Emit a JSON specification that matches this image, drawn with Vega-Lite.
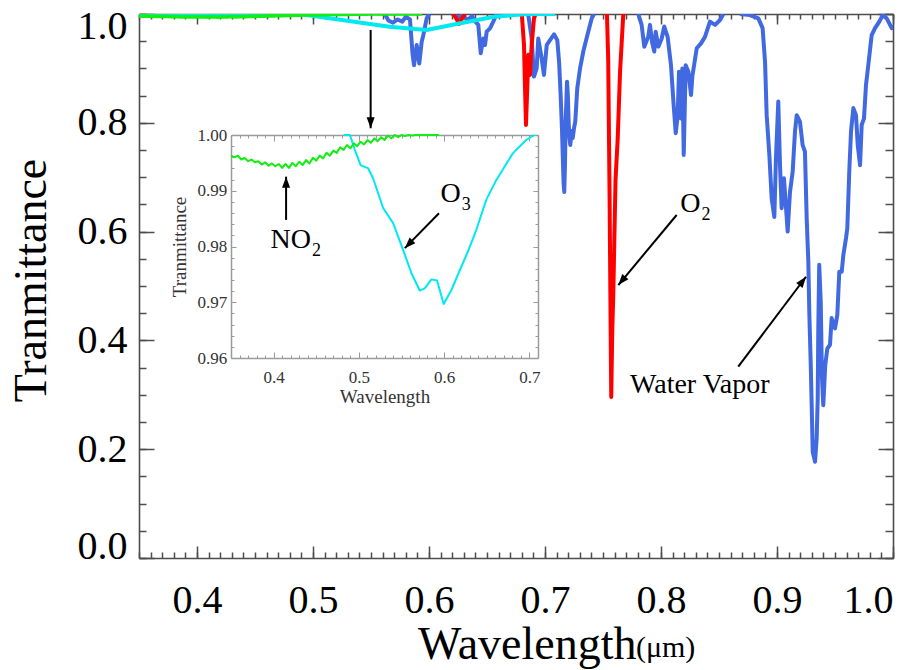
{
  "$schema": "https://vega.github.io/schema/vega-lite/v6.json",
  "width": 754,
  "height": 544,
  "autosize": {"type": "none"},
  "padding": {"left": 139, "top": 14, "right": 31, "bottom": 112},
  "background": "white",
  "config": {
    "view": {"stroke": null},
    "font": "Liberation Serif",
    "axis": {
      "grid": false,
      "domainColor": "#4d4d4d",
      "tickColor": "#4d4d4d",
      "domainWidth": 1.6,
      "tickWidth": 1.5,
      "labelFont": "Liberation Serif",
      "titleFont": "Liberation Serif",
      "labelColor": "#000000",
      "titleColor": "#000000",
      "titleFontWeight": "normal",
      "labelOverlap": false
    }
  },
  "datasets": {
    "blue": [
      {"seg": 1, "wl": 0.562, "t": 1.0}, {"seg": 1, "wl": 0.565, "t": 0.988}, {"seg": 1, "wl": 0.569, "t": 0.984}, {"seg": 1, "wl": 0.573, "t": 0.99}, {"seg": 1, "wl": 0.577, "t": 0.986}, {"seg": 1, "wl": 0.58, "t": 0.995}, {"seg": 1, "wl": 0.5836, "t": 0.99}, {"seg": 1, "wl": 0.5859, "t": 0.9246}, {"seg": 1, "wl": 0.5871, "t": 0.906}, {"seg": 1, "wl": 0.5894, "t": 0.943}, {"seg": 1, "wl": 0.5916, "t": 0.909}, {"seg": 1, "wl": 0.5937, "t": 0.949}, {"seg": 1, "wl": 0.5951, "t": 0.961}, {"seg": 1, "wl": 0.598, "t": 0.992}, {"seg": 1, "wl": 0.6003, "t": 1.0},
      {"seg": 2, "wl": 0.62, "t": 1.0}, {"seg": 2, "wl": 0.625, "t": 0.993}, {"seg": 2, "wl": 0.629, "t": 0.998}, {"seg": 2, "wl": 0.633, "t": 0.989}, {"seg": 2, "wl": 0.637, "t": 0.996}, {"seg": 2, "wl": 0.64, "t": 0.986}, {"seg": 2, "wl": 0.6425, "t": 0.98}, {"seg": 2, "wl": 0.6446, "t": 0.928}, {"seg": 2, "wl": 0.6468, "t": 0.955}, {"seg": 2, "wl": 0.6483, "t": 0.943}, {"seg": 2, "wl": 0.6497, "t": 0.9675}, {"seg": 2, "wl": 0.6526, "t": 0.9737}, {"seg": 2, "wl": 0.6554, "t": 0.986}, {"seg": 2, "wl": 0.6584, "t": 1.0},
      {"seg": 3, "wl": 0.684, "t": 1.0}, {"seg": 3, "wl": 0.6856, "t": 0.998}, {"seg": 3, "wl": 0.6885, "t": 0.955}, {"seg": 3, "wl": 0.6905, "t": 0.885}, {"seg": 3, "wl": 0.6928, "t": 0.9}, {"seg": 3, "wl": 0.6942, "t": 0.955}, {"seg": 3, "wl": 0.6971, "t": 0.9186}, {"seg": 3, "wl": 0.6991, "t": 0.888}, {"seg": 3, "wl": 0.7015, "t": 0.943}, {"seg": 3, "wl": 0.7043, "t": 0.952}, {"seg": 3, "wl": 0.7078, "t": 0.9626}, {"seg": 3, "wl": 0.7106, "t": 0.952}, {"seg": 3, "wl": 0.7122, "t": 0.91}, {"seg": 3, "wl": 0.7135, "t": 0.85}, {"seg": 3, "wl": 0.7146, "t": 0.79}, {"seg": 3, "wl": 0.7153, "t": 0.741}, {"seg": 3, "wl": 0.716, "t": 0.69}, {"seg": 3, "wl": 0.7166, "t": 0.673}, {"seg": 3, "wl": 0.7172, "t": 0.72}, {"seg": 3, "wl": 0.7178, "t": 0.8}, {"seg": 3, "wl": 0.719, "t": 0.8756}, {"seg": 3, "wl": 0.7197, "t": 0.85}, {"seg": 3, "wl": 0.7204, "t": 0.8}, {"seg": 3, "wl": 0.7212, "t": 0.77}, {"seg": 3, "wl": 0.7218, "t": 0.759}, {"seg": 3, "wl": 0.7229, "t": 0.785}, {"seg": 3, "wl": 0.7239, "t": 0.772}, {"seg": 3, "wl": 0.725, "t": 0.79}, {"seg": 3, "wl": 0.7261, "t": 0.802}, {"seg": 3, "wl": 0.7278, "t": 0.863}, {"seg": 3, "wl": 0.7302, "t": 0.9}, {"seg": 3, "wl": 0.733, "t": 0.931}, {"seg": 3, "wl": 0.7365, "t": 0.961}, {"seg": 3, "wl": 0.7403, "t": 0.992}, {"seg": 3, "wl": 0.7422, "t": 1.0},
      {"seg": 4, "wl": 0.7804, "t": 1.0}, {"seg": 4, "wl": 0.7833, "t": 0.98}, {"seg": 4, "wl": 0.7856, "t": 0.94}, {"seg": 4, "wl": 0.789, "t": 0.958}, {"seg": 4, "wl": 0.7905, "t": 0.98}, {"seg": 4, "wl": 0.7925, "t": 0.946}, {"seg": 4, "wl": 0.7942, "t": 0.931}, {"seg": 4, "wl": 0.7954, "t": 0.9675}, {"seg": 4, "wl": 0.7977, "t": 0.94}, {"seg": 4, "wl": 0.8006, "t": 0.955}, {"seg": 4, "wl": 0.8028, "t": 0.977}, {"seg": 4, "wl": 0.8057, "t": 0.958}, {"seg": 4, "wl": 0.8086, "t": 0.906}, {"seg": 4, "wl": 0.8109, "t": 0.833}, {"seg": 4, "wl": 0.8127, "t": 0.781}, {"seg": 4, "wl": 0.8144, "t": 0.814}, {"seg": 4, "wl": 0.8155, "t": 0.894}, {"seg": 4, "wl": 0.8172, "t": 0.808}, {"seg": 4, "wl": 0.8184, "t": 0.9}, {"seg": 4, "wl": 0.8196, "t": 0.741}, {"seg": 4, "wl": 0.8213, "t": 0.906}, {"seg": 4, "wl": 0.8236, "t": 0.894}, {"seg": 4, "wl": 0.8259, "t": 0.851}, {"seg": 4, "wl": 0.827, "t": 0.885}, {"seg": 4, "wl": 0.8308, "t": 0.937}, {"seg": 4, "wl": 0.8345, "t": 0.946}, {"seg": 4, "wl": 0.8379, "t": 0.958}, {"seg": 4, "wl": 0.8422, "t": 0.986}, {"seg": 4, "wl": 0.8466, "t": 0.98}, {"seg": 4, "wl": 0.8509, "t": 0.989}, {"seg": 4, "wl": 0.8537, "t": 1.0},
      {"seg": 5, "wl": 0.868, "t": 1.0}, {"seg": 5, "wl": 0.8767, "t": 0.998}, {"seg": 5, "wl": 0.8839, "t": 0.992}, {"seg": 5, "wl": 0.8876, "t": 0.974}, {"seg": 5, "wl": 0.8897, "t": 0.912}, {"seg": 5, "wl": 0.8911, "t": 0.814}, {"seg": 5, "wl": 0.8934, "t": 0.741}, {"seg": 5, "wl": 0.8954, "t": 0.661}, {"seg": 5, "wl": 0.8977, "t": 0.627}, {"seg": 5, "wl": 0.8991, "t": 0.735}, {"seg": 5, "wl": 0.9011, "t": 0.839}, {"seg": 5, "wl": 0.9026, "t": 0.722}, {"seg": 5, "wl": 0.904, "t": 0.643}, {"seg": 5, "wl": 0.906, "t": 0.698}, {"seg": 5, "wl": 0.9078, "t": 0.643}, {"seg": 5, "wl": 0.9092, "t": 0.6}, {"seg": 5, "wl": 0.9112, "t": 0.673}, {"seg": 5, "wl": 0.9135, "t": 0.71}, {"seg": 5, "wl": 0.9155, "t": 0.784}, {"seg": 5, "wl": 0.917, "t": 0.814}, {"seg": 5, "wl": 0.9198, "t": 0.802}, {"seg": 5, "wl": 0.9221, "t": 0.759}, {"seg": 5, "wl": 0.9241, "t": 0.747}, {"seg": 5, "wl": 0.9256, "t": 0.624}, {"seg": 5, "wl": 0.927, "t": 0.545}, {"seg": 5, "wl": 0.9279, "t": 0.447}, {"seg": 5, "wl": 0.9291, "t": 0.355}, {"seg": 5, "wl": 0.9299, "t": 0.281}, {"seg": 5, "wl": 0.9308, "t": 0.195}, {"seg": 5, "wl": 0.9328, "t": 0.177}, {"seg": 5, "wl": 0.9342, "t": 0.22}, {"seg": 5, "wl": 0.9351, "t": 0.294}, {"seg": 5, "wl": 0.9356, "t": 0.422}, {"seg": 5, "wl": 0.9364, "t": 0.539}, {"seg": 5, "wl": 0.9377, "t": 0.471}, {"seg": 5, "wl": 0.9388, "t": 0.33}, {"seg": 5, "wl": 0.9399, "t": 0.281}, {"seg": 5, "wl": 0.9416, "t": 0.355}, {"seg": 5, "wl": 0.9434, "t": 0.385}, {"seg": 5, "wl": 0.9457, "t": 0.392}, {"seg": 5, "wl": 0.9471, "t": 0.441}, {"seg": 5, "wl": 0.95, "t": 0.422}, {"seg": 5, "wl": 0.952, "t": 0.447}, {"seg": 5, "wl": 0.9537, "t": 0.526}, {"seg": 5, "wl": 0.9558, "t": 0.526}, {"seg": 5, "wl": 0.9572, "t": 0.557}, {"seg": 5, "wl": 0.9595, "t": 0.588}, {"seg": 5, "wl": 0.9606, "t": 0.606}, {"seg": 5, "wl": 0.9623, "t": 0.71}, {"seg": 5, "wl": 0.9638, "t": 0.784}, {"seg": 5, "wl": 0.9658, "t": 0.827}, {"seg": 5, "wl": 0.9681, "t": 0.814}, {"seg": 5, "wl": 0.9696, "t": 0.759}, {"seg": 5, "wl": 0.9716, "t": 0.722}, {"seg": 5, "wl": 0.973, "t": 0.796}, {"seg": 5, "wl": 0.975, "t": 0.808}, {"seg": 5, "wl": 0.9767, "t": 0.869}, {"seg": 5, "wl": 0.9787, "t": 0.906}, {"seg": 5, "wl": 0.9816, "t": 0.961}, {"seg": 5, "wl": 0.9845, "t": 0.974}, {"seg": 5, "wl": 0.9882, "t": 0.986}, {"seg": 5, "wl": 0.9911, "t": 0.998}, {"seg": 5, "wl": 0.9946, "t": 0.992}, {"seg": 5, "wl": 0.9989, "t": 0.974}, {"seg": 5, "wl": 1.0, "t": 0.98}
    ],
    "oxygen": [
      {"seg": 1, "wl": 0.621, "t": 1.0}, {"seg": 1, "wl": 0.624, "t": 0.99}, {"seg": 1, "wl": 0.626, "t": 0.982}, {"seg": 1, "wl": 0.628, "t": 0.99}, {"seg": 1, "wl": 0.631, "t": 1.0},
      {"seg": 2, "wl": 0.68, "t": 1.0}, {"seg": 2, "wl": 0.6819, "t": 0.943}, {"seg": 2, "wl": 0.6828, "t": 0.863}, {"seg": 2, "wl": 0.6836, "t": 0.796}, {"seg": 2, "wl": 0.6847, "t": 0.863}, {"seg": 2, "wl": 0.6856, "t": 0.925}, {"seg": 2, "wl": 0.6871, "t": 0.888}, {"seg": 2, "wl": 0.6885, "t": 0.943}, {"seg": 2, "wl": 0.6905, "t": 0.992}, {"seg": 2, "wl": 0.692, "t": 1.0},
      {"seg": 3, "wl": 0.7534, "t": 1.0}, {"seg": 3, "wl": 0.7545, "t": 0.9154}, {"seg": 3, "wl": 0.7557, "t": 0.658}, {"seg": 3, "wl": 0.7566, "t": 0.419}, {"seg": 3, "wl": 0.7571, "t": 0.296}, {"seg": 3, "wl": 0.758, "t": 0.419}, {"seg": 3, "wl": 0.7589, "t": 0.487}, {"seg": 3, "wl": 0.7595, "t": 0.555}, {"seg": 3, "wl": 0.7608, "t": 0.695}, {"seg": 3, "wl": 0.7627, "t": 0.772}, {"seg": 3, "wl": 0.7647, "t": 0.894}, {"seg": 3, "wl": 0.7675, "t": 1.0}
    ],
    "ozone_coarse": [
      {"wl": 0.35, "t": 1.0}, {"wl": 0.49, "t": 0.9995}, {"wl": 0.566, "t": 0.9765}, {"wl": 0.598, "t": 0.9706}, {"wl": 0.627, "t": 0.983}, {"wl": 0.656, "t": 0.995}, {"wl": 0.685, "t": 1.0}, {"wl": 0.709, "t": 1.0}
    ],
    "ozone": [
      {"wl": 0.482, "t": 1.0005}, {"wl": 0.4895, "t": 1.0}, {"wl": 0.4953, "t": 0.9973}, {"wl": 0.502, "t": 0.9946}, {"wl": 0.511, "t": 0.994}, {"wl": 0.5167, "t": 0.9922}, {"wl": 0.5284, "t": 0.9869}, {"wl": 0.5401, "t": 0.9842}, {"wl": 0.5518, "t": 0.9794}, {"wl": 0.5616, "t": 0.9752}, {"wl": 0.5713, "t": 0.9721}, {"wl": 0.5772, "t": 0.9725}, {"wl": 0.585, "t": 0.9741}, {"wl": 0.5916, "t": 0.9739}, {"wl": 0.5994, "t": 0.9697}, {"wl": 0.6084, "t": 0.9722}, {"wl": 0.6278, "t": 0.9791}, {"wl": 0.6377, "t": 0.983}, {"wl": 0.6494, "t": 0.9884}, {"wl": 0.661, "t": 0.9919}, {"wl": 0.6805, "t": 0.9967}, {"wl": 0.6961, "t": 0.9991}, {"wl": 0.7058, "t": 1.0}
    ],
    "no2": [
      {"wl": 0.35, "t": 0.9963}, {"wl": 0.354, "t": 0.996}, {"wl": 0.358, "t": 0.9963}, {"wl": 0.362, "t": 0.9956}, {"wl": 0.366, "t": 0.9959}, {"wl": 0.37, "t": 0.9953}, {"wl": 0.374, "t": 0.9956}, {"wl": 0.378, "t": 0.9951}, {"wl": 0.382, "t": 0.9953}, {"wl": 0.386, "t": 0.9947}, {"wl": 0.39, "t": 0.9951}, {"wl": 0.394, "t": 0.9945}, {"wl": 0.398, "t": 0.9949}, {"wl": 0.402, "t": 0.9944}, {"wl": 0.406, "t": 0.9948}, {"wl": 0.41, "t": 0.9941}, {"wl": 0.414, "t": 0.9948}, {"wl": 0.418, "t": 0.9941}, {"wl": 0.422, "t": 0.995}, {"wl": 0.426, "t": 0.9944}, {"wl": 0.43, "t": 0.9952}, {"wl": 0.434, "t": 0.9946}, {"wl": 0.438, "t": 0.9955}, {"wl": 0.442, "t": 0.9949}, {"wl": 0.446, "t": 0.9959}, {"wl": 0.45, "t": 0.9954}, {"wl": 0.454, "t": 0.9963}, {"wl": 0.458, "t": 0.9958}, {"wl": 0.462, "t": 0.9968}, {"wl": 0.466, "t": 0.9963}, {"wl": 0.47, "t": 0.9972}, {"wl": 0.474, "t": 0.9968}, {"wl": 0.478, "t": 0.9978}, {"wl": 0.482, "t": 0.9973}, {"wl": 0.486, "t": 0.9982}, {"wl": 0.49, "t": 0.9976}, {"wl": 0.494, "t": 0.9985}, {"wl": 0.498, "t": 0.998}, {"wl": 0.502, "t": 0.9988}, {"wl": 0.506, "t": 0.9983}, {"wl": 0.51, "t": 0.9991}, {"wl": 0.514, "t": 0.9986}, {"wl": 0.518, "t": 0.9994}, {"wl": 0.522, "t": 0.9989}, {"wl": 0.526, "t": 0.9996}, {"wl": 0.53, "t": 0.9991}, {"wl": 0.534, "t": 0.9999}, {"wl": 0.538, "t": 0.9994}, {"wl": 0.542, "t": 1.0001}, {"wl": 0.546, "t": 0.9996}, {"wl": 0.55, "t": 1.0003}, {"wl": 0.554, "t": 0.9998}, {"wl": 0.558, "t": 1.0004}, {"wl": 0.562, "t": 0.9999}, {"wl": 0.566, "t": 1.0005}, {"wl": 0.57, "t": 1.0}, {"wl": 0.574, "t": 1.0005}, {"wl": 0.578, "t": 1.0001}, {"wl": 0.582, "t": 1.0006}, {"wl": 0.586, "t": 1.0002}, {"wl": 0.59, "t": 1.0005}, {"wl": 0.594, "t": 1.0002}
    ],
    "arrows": [
      {"panel": "main", "name": "down", "x0": 0.5497, "y0": 0.9706, "x1": 0.5497, "y1": 0.79},
      {"panel": "main", "name": "o2", "x0": 0.8135, "y0": 0.6305, "x1": 0.7632, "y1": 0.5018},
      {"panel": "main", "name": "vapor", "x0": 0.8666, "y0": 0.3517, "x1": 0.925, "y1": 0.517},
      {"panel": "inset", "name": "no2", "x0": 0.4146, "y0": 0.98477, "x1": 0.4146, "y1": 0.99253},
      {"panel": "inset", "name": "o3", "x0": 0.5939, "y0": 0.98597, "x1": 0.5538, "y1": 0.9797}
    ],
    "species": [
      {"panel": "main", "name": "O", "sub": "2", "x": 0.8341, "y": 0.6366},
      {"panel": "inset", "name": "O", "sub": "3", "x": 0.6193, "y": 0.98805},
      {"panel": "inset", "name": "NO", "sub": "2", "x": 0.4439, "y": 0.9797}
    ],
    "notes": [
      {"kind": "label", "text": "Water Vapor", "x": 0.7733, "y": 0.3042},
      {"kind": "unit", "text": "(μm)", "x": 0.7784, "y": -0.182}
    ]
  },
  "layer": [
    {
      "layer": [
        {
          "data": {"name": "blue"},
          "mark": {"type": "line", "color": "#4169e1", "strokeWidth": 4, "clip": true, "strokeJoin": "round"},
          "encoding": {
            "x": {"field": "wl", "type": "quantitative", "scale": {"domain": [0.35, 1.0], "nice": false, "zero": false},
              "axis": {"orient": "top", "values": [0.35,0.36,0.37,0.38,0.39,0.4,0.41,0.42,0.43,0.44,0.45,0.46,0.47,0.48,0.49,0.5,0.51,0.52,0.53,0.54,0.55,0.56,0.57,0.58,0.59,0.6,0.61,0.62,0.63,0.64,0.65,0.66,0.67,0.68,0.69,0.7,0.71,0.72,0.73,0.74,0.75,0.76,0.77,0.78,0.79,0.8,0.81,0.82,0.83,0.84,0.85,0.86,0.87,0.88,0.89,0.9,0.91,0.92,0.93,0.94,0.95,0.96,0.97,0.98,0.99,1.0], "tickSize": -5, "labels": false, "domain": false, "title": null}},
            "y": {"field": "t", "type": "quantitative", "scale": {"domain": [0, 1.0], "nice": false, "zero": false},
              "axis": {"orient": "right", "values": [0,0.05,0.1,0.15,0.2,0.25,0.3,0.35,0.4,0.45,0.5,0.55,0.6,0.65,0.7,0.75,0.8,0.85,0.9,0.95,1.0], "tickSize": -8, "labels": false, "domain": false, "title": null}},
            "detail": {"field": "seg"}
          }
        },
        {
          "data": {"name": "oxygen"},
          "mark": {"type": "line", "color": "#ff0000", "strokeWidth": 4, "clip": true, "strokeJoin": "round"},
          "encoding": {
            "x": {"field": "wl", "type": "quantitative", "scale": {"domain": [0.35, 1.0], "nice": false, "zero": false},
              "axis": {"orient": "top", "values": [0.4,0.5,0.6,0.7,0.8,0.9,1.0], "tickSize": -10, "labels": false, "domain": true, "title": null}},
            "y": {"field": "t", "type": "quantitative", "scale": {"domain": [0, 1.0], "nice": false, "zero": false},
              "axis": {"orient": "right", "values": [0,0.2,0.4,0.6,0.8,1.0], "tickSize": -15, "labels": false, "domain": true, "title": null}},
            "detail": {"field": "seg"}
          }
        },
        {
          "data": {"name": "ozone_coarse"},
          "mark": {"type": "line", "color": "#00e8f0", "strokeWidth": 4, "clip": true, "strokeJoin": "round"},
          "encoding": {
            "x": {"field": "wl", "type": "quantitative", "scale": {"domain": [0.35, 1.0], "nice": false, "zero": false},
              "axis": {"orient": "bottom", "values": [0.35,0.36,0.37,0.38,0.39,0.4,0.41,0.42,0.43,0.44,0.45,0.46,0.47,0.48,0.49,0.5,0.51,0.52,0.53,0.54,0.55,0.56,0.57,0.58,0.59,0.6,0.61,0.62,0.63,0.64,0.65,0.66,0.67,0.68,0.69,0.7,0.71,0.72,0.73,0.74,0.75,0.76,0.77,0.78,0.79,0.8,0.81,0.82,0.83,0.84,0.85,0.86,0.87,0.88,0.89,0.9,0.91,0.92,0.93,0.94,0.95,0.96,0.97,0.98,0.99,1.0], "tickSize": -6, "labels": false, "domain": false, "title": null}},
            "y": {"field": "t", "type": "quantitative", "scale": {"domain": [0, 1.0], "nice": false, "zero": false},
              "axis": {"orient": "left", "values": [0,0.05,0.1,0.15,0.2,0.25,0.3,0.35,0.4,0.45,0.5,0.55,0.6,0.65,0.7,0.75,0.8,0.85,0.9,0.95,1.0], "tickSize": -7, "labels": false, "domain": false, "title": null}}
          }
        },
        {
          "data": {"name": "no2"},
          "mark": {"type": "line", "color": "#11ee11", "strokeWidth": 3.5, "clip": true, "strokeJoin": "round"},
          "encoding": {
            "x": {"field": "wl", "type": "quantitative", "scale": {"domain": [0.35, 1.0], "nice": false, "zero": false},
              "axis": {"orient": "bottom", "values": [0.4,0.5,0.6,0.7,0.8,0.9,1.0], "format": ".1f", "tickSize": -12, "domain": true,
                "labelFont": "Liberation Serif", "labelFontSize": 40, "labelPadding": 34.4,
                "title": "Wavelength", "titleFont": "Liberation Serif", "titleFontSize": 46, "titleX": 497, "titleY": 100, "titleAlign": "right", "titleBaseline": "alphabetic"}},
            "y": {"field": "t", "type": "quantitative", "scale": {"domain": [0, 1.0], "nice": false, "zero": false},
              "axis": {"orient": "left", "values": [0,0.2,0.4,0.6,0.8,1.0], "format": ".1f", "tickSize": -15, "domain": true,
                "labelFont": "Liberation Serif", "labelFontSize": 40, "labelPadding": 27, "labelFlush": true, "labelFlushOffset": 8,
                "title": "Tranmittance", "titleFont": "Liberation Serif", "titleFontSize": 46, "titleX": -94, "titleY": 266, "titleAngle": 270, "titleAlign": "center", "titleBaseline": "alphabetic"}}
          }
        },
        {
          "data": {"name": "arrows"},
          "transform": [{"filter": "datum.panel === 'main'"}],
          "mark": {"type": "rule", "color": "#000000", "strokeWidth": 2},
          "encoding": {
            "x": {"field": "x0", "type": "quantitative", "scale": {"domain": [0.35, 1.0], "nice": false, "zero": false}, "axis": null},
            "y": {"field": "y0", "type": "quantitative", "scale": {"domain": [0, 1.0], "nice": false, "zero": false}, "axis": null},
            "x2": {"field": "x1"},
            "y2": {"field": "y1"}
          }
        },
        {
          "data": {"name": "arrows"},
          "transform": [{"filter": "datum.name === 'down'"}],
          "mark": {"type": "point", "shape": "M0,0L0.67,1.83L-0.67,1.83Z", "size": 144, "angle": 180, "filled": true, "color": "#000000", "opacity": 1, "strokeWidth": 0},
          "encoding": {
            "x": {"field": "x1", "type": "quantitative", "scale": {"domain": [0.35, 1.0], "nice": false, "zero": false}, "axis": null},
            "y": {"field": "y1", "type": "quantitative", "scale": {"domain": [0, 1.0], "nice": false, "zero": false}, "axis": null}
          }
        },
        {
          "data": {"name": "arrows"},
          "transform": [{"filter": "datum.name === 'o2'"}],
          "mark": {"type": "point", "shape": "M0,0L0.67,1.83L-0.67,1.83Z", "size": 144, "angle": 219.8, "filled": true, "color": "#000000", "opacity": 1, "strokeWidth": 0},
          "encoding": {
            "x": {"field": "x1", "type": "quantitative", "scale": {"domain": [0.35, 1.0], "nice": false, "zero": false}, "axis": null},
            "y": {"field": "y1", "type": "quantitative", "scale": {"domain": [0, 1.0], "nice": false, "zero": false}, "axis": null}
          }
        },
        {
          "data": {"name": "arrows"},
          "transform": [{"filter": "datum.name === 'vapor'"}],
          "mark": {"type": "point", "shape": "M0,0L0.67,1.83L-0.67,1.83Z", "size": 144, "angle": 37, "filled": true, "color": "#000000", "opacity": 1, "strokeWidth": 0},
          "encoding": {
            "x": {"field": "x1", "type": "quantitative", "scale": {"domain": [0.35, 1.0], "nice": false, "zero": false}, "axis": null},
            "y": {"field": "y1", "type": "quantitative", "scale": {"domain": [0, 1.0], "nice": false, "zero": false}, "axis": null}
          }
        },
        {
          "data": {"name": "notes"},
          "transform": [{"filter": "datum.kind === 'label'"}],
          "mark": {"type": "text", "align": "left", "baseline": "alphabetic", "fontSize": 28, "font": "Liberation Serif", "color": "#000000"},
          "encoding": {
            "x": {"field": "x", "type": "quantitative", "scale": {"domain": [0.35, 1.0], "nice": false, "zero": false}, "axis": null},
            "y": {"field": "y", "type": "quantitative", "scale": {"domain": [0, 1.0], "nice": false, "zero": false}, "axis": null},
            "text": {"field": "text"}
          }
        },
        {
          "data": {"name": "notes"},
          "transform": [{"filter": "datum.kind === 'unit'"}],
          "mark": {"type": "text", "align": "left", "baseline": "alphabetic", "fontSize": 30, "font": "Liberation Serif", "color": "#000000"},
          "encoding": {
            "x": {"field": "x", "type": "quantitative", "scale": {"domain": [0.35, 1.0], "nice": false, "zero": false}, "axis": null},
            "y": {"field": "y", "type": "quantitative", "scale": {"domain": [0, 1.0], "nice": false, "zero": false}, "axis": null},
            "text": {"field": "text"}
          }
        },
        {
          "data": {"name": "species"},
          "transform": [{"filter": "datum.panel === 'main'"}],
          "mark": {"type": "text", "align": "right", "baseline": "alphabetic", "fontSize": 28, "font": "Liberation Serif", "color": "#000000"},
          "encoding": {
            "x": {"field": "x", "type": "quantitative", "scale": {"domain": [0.35, 1.0], "nice": false, "zero": false}, "axis": null},
            "y": {"field": "y", "type": "quantitative", "scale": {"domain": [0, 1.0], "nice": false, "zero": false}, "axis": null},
            "text": {"field": "name"}
          }
        },
        {
          "data": {"name": "species"},
          "transform": [{"filter": "datum.panel === 'main'"}],
          "mark": {"type": "text", "align": "left", "baseline": "alphabetic", "dx": 1, "dy": 8, "fontSize": 18, "font": "Liberation Serif", "color": "#000000"},
          "encoding": {
            "x": {"field": "x", "type": "quantitative", "scale": {"domain": [0.35, 1.0], "nice": false, "zero": false}, "axis": null},
            "y": {"field": "y", "type": "quantitative", "scale": {"domain": [0, 1.0], "nice": false, "zero": false}, "axis": null},
            "text": {"field": "sub"}
          }
        }
      ],
      "resolve": {"axis": {"x": "independent", "y": "independent"}}
    },
    {
      "layer": [
        {
          "data": {"name": "ozone"},
          "mark": {"type": "line", "color": "#00e8f0", "strokeWidth": 2, "strokeJoin": "round"},
          "encoding": {
            "x": {"field": "wl", "type": "quantitative", "scale": {"domain": [0.35, 0.71], "range": [92, 399], "nice": false, "zero": false},
              "axis": {"orient": "bottom", "offset": -200, "values": [0.4,0.5,0.6,0.7], "format": ".1f", "tickSize": -6, "tickWidth": 1, "domainWidth": 1.5,
                "domainColor": "#9a9a9a", "tickColor": "#9a9a9a", "labelColor": "#333333", "labelFont": "Liberation Serif", "labelFontSize": 17, "labelPadding": 17.7,
                "title": "Wavelength", "titleFont": "Liberation Serif", "titleColor": "#333333", "titleFontSize": 19, "titleY": 29, "titleBaseline": "top"}},
            "y": {"field": "t", "type": "quantitative", "scale": {"domain": [0.96, 1.0], "range": [344, 121], "nice": false, "zero": false, "clamp": true},
              "axis": {"orient": "left", "offset": -92, "values": [0.96,0.97,0.98,0.99,1.0], "format": ".2f", "tickSize": -5, "tickWidth": 1, "domainWidth": 1.5,
                "domainColor": "#9a9a9a", "tickColor": "#9a9a9a", "labelColor": "#333333", "labelFont": "Liberation Serif", "labelFontSize": 17, "labelPadding": 9.3,
                "title": "Tranmittance", "titleFont": "Liberation Serif", "titleColor": "#333333", "titleFontSize": 19, "titleX": -46, "titleAngle": 270, "titleBaseline": "alphabetic"}}
          }
        },
        {
          "data": {"name": "no2"},
          "mark": {"type": "line", "color": "#11ee11", "strokeWidth": 2, "strokeJoin": "round"},
          "encoding": {
            "x": {"field": "wl", "type": "quantitative", "scale": {"domain": [0.35, 0.71], "range": [92, 399], "nice": false, "zero": false},
              "axis": {"orient": "bottom", "offset": -200, "values": [0.35,0.36,0.37,0.38,0.39,0.4,0.41,0.42,0.43,0.44,0.45,0.46,0.47,0.48,0.49,0.5,0.51,0.52,0.53,0.54,0.55,0.56,0.57,0.58,0.59,0.6,0.61,0.62,0.63,0.64,0.65,0.66,0.67,0.68,0.69,0.7,0.71], "tickSize": -3, "tickWidth": 1, "tickColor": "#9a9a9a", "labels": false, "domain": false, "title": null}},
            "y": {"field": "t", "type": "quantitative", "scale": {"domain": [0.96, 1.0], "range": [344, 121], "nice": false, "zero": false, "clamp": true},
              "axis": {"orient": "left", "offset": -92, "values": [0.96,0.962,0.964,0.966,0.968,0.97,0.972,0.974,0.976,0.978,0.98,0.982,0.984,0.986,0.988,0.99,0.992,0.994,0.996,0.998,1.0], "tickSize": -3, "tickWidth": 1, "tickColor": "#9a9a9a", "labels": false, "domain": false, "title": null}}
          }
        },
        {
          "data": {"name": "arrows"},
          "transform": [{"filter": "datum.panel === 'inset'"}],
          "mark": {"type": "rule", "color": "#000000", "strokeWidth": 2},
          "encoding": {
            "x": {"field": "x0", "type": "quantitative", "scale": {"domain": [0.35, 0.71], "range": [92, 399], "nice": false, "zero": false},
              "axis": {"orient": "top", "offset": -121, "values": [0.4,0.5,0.6,0.7], "tickSize": -6, "tickWidth": 1, "domainWidth": 1.5, "domainColor": "#9a9a9a", "tickColor": "#9a9a9a", "labels": false, "domain": true, "title": null}},
            "y": {"field": "y0", "type": "quantitative", "scale": {"domain": [0.96, 1.0], "range": [344, 121], "nice": false, "zero": false, "clamp": true},
              "axis": {"orient": "right", "offset": -355, "values": [0.96,0.97,0.98,0.99,1.0], "tickSize": -5, "tickWidth": 1, "domainWidth": 1.5, "domainColor": "#9a9a9a", "tickColor": "#9a9a9a", "labels": false, "domain": true, "title": null}},
            "x2": {"field": "x1"},
            "y2": {"field": "y1"}
          }
        },
        {
          "data": {"name": "arrows"},
          "transform": [{"filter": "datum.name === 'no2'"}],
          "mark": {"type": "point", "shape": "M0,0L0.67,1.83L-0.67,1.83Z", "size": 144, "angle": 0, "filled": true, "color": "#000000", "opacity": 1, "strokeWidth": 0},
          "encoding": {
            "x": {"field": "x1", "type": "quantitative", "scale": {"domain": [0.35, 0.71], "range": [92, 399], "nice": false, "zero": false},
              "axis": {"orient": "top", "offset": -121, "values": [0.35,0.36,0.37,0.38,0.39,0.4,0.41,0.42,0.43,0.44,0.45,0.46,0.47,0.48,0.49,0.5,0.51,0.52,0.53,0.54,0.55,0.56,0.57,0.58,0.59,0.6,0.61,0.62,0.63,0.64,0.65,0.66,0.67,0.68,0.69,0.7,0.71], "tickSize": -3, "tickWidth": 1, "tickColor": "#9a9a9a", "labels": false, "domain": false, "title": null}},
            "y": {"field": "y1", "type": "quantitative", "scale": {"domain": [0.96, 1.0], "range": [344, 121], "nice": false, "zero": false, "clamp": true},
              "axis": {"orient": "right", "offset": -355, "values": [0.96,0.962,0.964,0.966,0.968,0.97,0.972,0.974,0.976,0.978,0.98,0.982,0.984,0.986,0.988,0.99,0.992,0.994,0.996,0.998,1.0], "tickSize": -3, "tickWidth": 1, "tickColor": "#9a9a9a", "labels": false, "domain": false, "title": null}}
          }
        },
        {
          "data": {"name": "arrows"},
          "transform": [{"filter": "datum.name === 'o3'"}],
          "mark": {"type": "point", "shape": "M0,0L0.67,1.83L-0.67,1.83Z", "size": 144, "angle": 224.4, "filled": true, "color": "#000000", "opacity": 1, "strokeWidth": 0},
          "encoding": {
            "x": {"field": "x1", "type": "quantitative", "scale": {"domain": [0.35, 0.71], "range": [92, 399], "nice": false, "zero": false}, "axis": null},
            "y": {"field": "y1", "type": "quantitative", "scale": {"domain": [0.96, 1.0], "range": [344, 121], "nice": false, "zero": false, "clamp": true}, "axis": null}
          }
        },
        {
          "data": {"name": "species"},
          "transform": [{"filter": "datum.panel === 'inset'"}],
          "mark": {"type": "text", "align": "right", "baseline": "alphabetic", "fontSize": 28, "font": "Liberation Serif", "color": "#000000"},
          "encoding": {
            "x": {"field": "x", "type": "quantitative", "scale": {"domain": [0.35, 0.71], "range": [92, 399], "nice": false, "zero": false}, "axis": null},
            "y": {"field": "y", "type": "quantitative", "scale": {"domain": [0.96, 1.0], "range": [344, 121], "nice": false, "zero": false, "clamp": true}, "axis": null},
            "text": {"field": "name"}
          }
        },
        {
          "data": {"name": "species"},
          "transform": [{"filter": "datum.panel === 'inset'"}],
          "mark": {"type": "text", "align": "left", "baseline": "alphabetic", "dx": 1, "dy": 8, "fontSize": 18, "font": "Liberation Serif", "color": "#000000"},
          "encoding": {
            "x": {"field": "x", "type": "quantitative", "scale": {"domain": [0.35, 0.71], "range": [92, 399], "nice": false, "zero": false}, "axis": null},
            "y": {"field": "y", "type": "quantitative", "scale": {"domain": [0.96, 1.0], "range": [344, 121], "nice": false, "zero": false, "clamp": true}, "axis": null},
            "text": {"field": "sub"}
          }
        }
      ],
      "resolve": {"axis": {"x": "independent", "y": "independent"}}
    }
  ],
  "resolve": {
    "scale": {"x": "independent", "y": "independent"},
    "axis": {"x": "independent", "y": "independent"}
  }
}
